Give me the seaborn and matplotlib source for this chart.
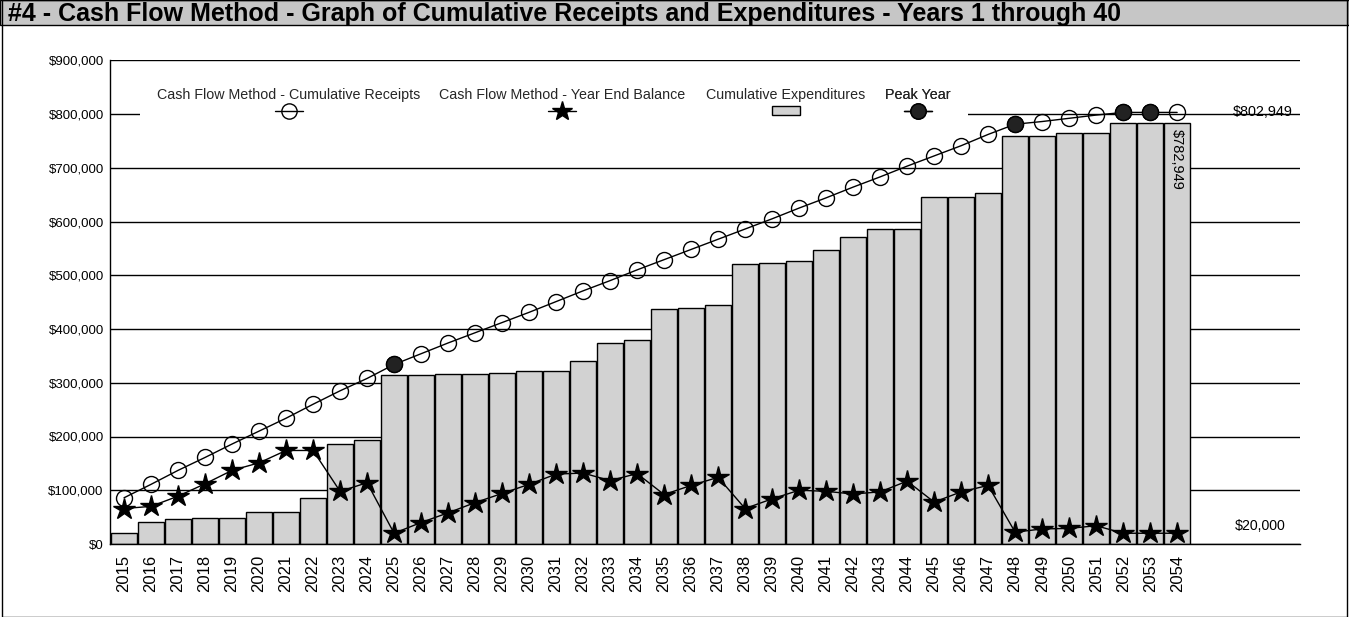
import numpy as np
import pandas as pd
import matplotlib
matplotlib.use("Agg")
import matplotlib.pyplot as plt
from matplotlib.patches import Rectangle
from matplotlib.lines import Line2D
import seaborn as sns

# ---- data ----
years = list(range(2015, 2055))
expenditures = [20000, 41000, 47000, 48000, 48000, 59000, 60000, 86000, 186000, 194000,
                315000, 314000, 316000, 316000, 318000, 321000, 321000, 340000, 374000, 380000,
                437000, 439000, 445000, 521000, 523000, 526000, 547000, 571000, 586000, 586000,
                646000, 646000, 653000, 759000, 759000, 764000, 765000, 782949, 782949, 782949]
receipts = [86000, 111000, 137000, 161000, 186000, 210000, 234000, 260000, 285000, 308000,
            334000, 354000, 374000, 393000, 412000, 431000, 451000, 471000, 490000, 510000,
            529000, 548000, 567000, 586000, 605000, 625000, 644000, 664000, 683000, 703000,
            722000, 741000, 762000, 781000, 786000, 792000, 798000, 802949, 802949, 802949]
balance = [66000, 70000, 89000, 112000, 137000, 151000, 174000, 174000, 98000, 114000,
           20000, 40000, 58000, 77000, 94000, 111000, 130000, 132000, 118000, 131000,
           92000, 109000, 124000, 66000, 84000, 100000, 98000, 93000, 97000, 117000,
           78000, 97000, 109000, 22000, 28000, 29000, 34000, 20000, 20000, 20000]
peak_years = [2025, 2048, 2052, 2053]
y_ticks = list(range(0, 900001, 100000))

title = "#4 - Cash Flow Method - Graph of Cumulative Receipts and Expenditures - Years 1 through 40"
legend_labels = ["Cash Flow Method - Cumulative Receipts", "Cash Flow Method - Year End Balance",
                 "Cumulative Expenditures", "Peak Year"]

sns.set_theme(style="white")
plt.rcParams['font.family'] = ['Liberation Sans', 'DejaVu Sans']

df = pd.DataFrame({"year": [str(y) for y in years], "idx": np.arange(len(years)),
                   "exp": expenditures, "rec": receipts, "bal": balance})
pk = df[df["year"].isin([str(p) for p in peak_years])]

W, H = 1349, 617
fig = plt.figure(figsize=(W / 100, H / 100), dpi=100)
fig.patch.set_facecolor("white")
ax = fig.add_axes([110 / W, 1 - 544 / H, (1300 - 110) / W, (544 - 60.25) / H])

BAR_C = "#d2d2d2"
sns.barplot(data=df, x="idx", y="exp", ax=ax, color=BAR_C, width=0.94,
            edgecolor="black", linewidth=1.0, saturation=1, native_scale=True, zorder=2)
ax.plot(df["idx"], df["rec"], color="black", lw=1.0, marker="o", markersize=11.5,
        markerfacecolor="none", markeredgecolor="black", markeredgewidth=1.0, zorder=4)
ax.plot(df["idx"], df["bal"], color="black", lw=1.0, marker="*", markersize=16,
        markerfacecolor="black", markeredgecolor="black", zorder=4)
ax.plot(pk["idx"], pk["rec"], ls="none", marker="o", markersize=11.5,
        markerfacecolor="#222222", markeredgecolor="black", zorder=5)

ax.set_xlim(-0.52, 43.55)
ax.set_ylim(0, 900000)
ax.set_yticks(y_ticks)
ax.set_yticklabels([f"${v:,.0f}" for v in y_ticks], fontsize=9.5)
ax.set_xticks(df["idx"])
ax.set_xticklabels(df["year"], rotation=90, fontsize=12)
ax.tick_params(axis="y", length=0, pad=4.5, colors="black")
ax.tick_params(axis="x", length=0, pad=8, colors="black")
ax.set_xlabel("")
ax.set_ylabel("")
ax.grid(axis="y", color="black", lw=1.0)
ax.grid(axis="x", visible=False)
ax.set_axisbelow(True)
for s in ["top", "right"]:
    ax.spines[s].set_visible(False)
for s in ["left", "bottom"]:
    ax.spines[s].set_color("black")
    ax.spines[s].set_linewidth(1.0)

# annotations
ax.text(41.05, receipts[-1], f"${receipts[-1]:,.0f}", fontsize=10.4, ha="left", va="center",
        color="black", zorder=6)
ax.text(41.15, balance[-1], f"${balance[-1]:,.0f}", fontsize=10.2, ha="left", va="bottom",
        color="black", zorder=6)
ax.annotate(f"${expenditures[-1]:,.0f}", xy=(len(years) - 1, expenditures[-1]),
            xytext=(0, -4), textcoords="offset points", rotation=270,
            ha="center", va="top", fontsize=10.5, color="black", zorder=6)

# legend background
ax.add_patch(Rectangle((0.0252, 0.864), 0.696, 0.095, transform=ax.transAxes,
                       facecolor="white", edgecolor="none", zorder=1.5))
handles = [
    Line2D([], [], color="black", lw=1, marker="o", markersize=11, markerfacecolor="none"),
    Line2D([], [], color="black", lw=1, marker="*", markersize=15, markerfacecolor="black"),
    Rectangle((0, 0), 1, 1, facecolor=BAR_C, edgecolor="black", lw=1),
    Line2D([], [], color="black", lw=1, marker="o", markersize=11, markerfacecolor="#222222"),
]
centers = [0.1504, 0.3798, 0.568, 0.679]
for h, lab, cx in zip(handles, legend_labels, centers):
    lg = ax.legend(handles=[h], labels=[""], title=lab, loc="center",
                   bbox_to_anchor=(cx, 0.9116), bbox_transform=ax.transAxes,
                   frameon=False, handlelength=2.0, handletextpad=0, borderpad=0,
                   labelspacing=0.2, handleheight=0.6,
                   title_fontsize=10.3, fontsize=10)
    lg.set_zorder(6)
    ax.add_artist(lg)

# title bar and frame
fig.patches.append(Rectangle((0, 1 - 25 / H), 1, 25 / H, transform=fig.transFigure,
                             facecolor="#c6c6c6", edgecolor="black", lw=1.0, zorder=0))
fig.patches.append(Rectangle((2 / W, 0), 1 - 4 / W, 1, transform=fig.transFigure,
                             facecolor="none", edgecolor="black", lw=1.0, zorder=0))
fig.text(8 / W, 1 - 13.5 / H, title, fontsize=18, fontweight="bold", ha="left", va="center",
         color="black")

fig.savefig("out.png", dpi=100)
